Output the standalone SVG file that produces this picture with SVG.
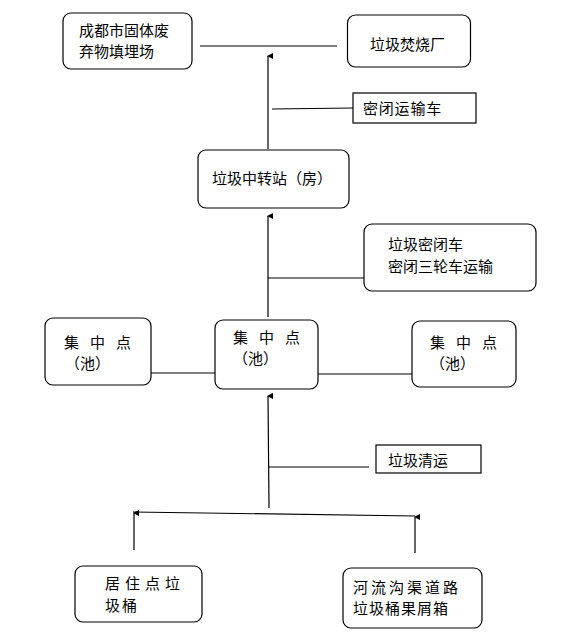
<svg xmlns="http://www.w3.org/2000/svg" width="563" height="644" viewBox="0 0 563 644">
<defs>
<style>
.box{fill:#fff;stroke:#000;stroke-width:1.2}
.ln{fill:none;stroke:#000;stroke-width:1.2}
text{font-family:"Noto Sans CJK SC","Liberation Sans",sans-serif;font-size:15px;fill:#000}
</style>
<marker id="ah" viewBox="0 0 6 6" refX="3" refY="1" markerWidth="6" markerHeight="6" markerUnits="userSpaceOnUse" orient="auto-start-reverse">
<path d="M0,6 L3,0 L6,6 Z" fill="#000"/>
</marker>
</defs>
<rect width="563" height="644" fill="#fff"/>
<g id="connectors">
<line class="ln" x1="200" y1="46" x2="337" y2="46"/>
<line class="ln" x1="268" y1="149" x2="268" y2="56" marker-end="url(#ah)"/>
<line class="ln" x1="272" y1="109" x2="353" y2="108"/>
<line class="ln" x1="268" y1="317" x2="268" y2="216" marker-end="url(#ah)"/>
<line class="ln" x1="268" y1="278" x2="364" y2="278"/>
<line class="ln" x1="151" y1="373" x2="215" y2="373"/>
<line class="ln" x1="318" y1="374" x2="412" y2="374"/>
<line class="ln" x1="269" y1="508" x2="268" y2="396" marker-end="url(#ah)"/>
<line class="ln" x1="269" y1="467" x2="369" y2="467"/>
<line class="ln" x1="133" y1="512" x2="415" y2="516"/>
<line class="ln" x1="134" y1="550" x2="134" y2="513" marker-end="url(#ah)"/>
<line class="ln" x1="415" y1="553" x2="415" y2="517" marker-end="url(#ah)"/>
</g>
<g id="landfill">
<rect class="box" x="63" y="13" width="129" height="56" rx="8"/>
<text x="79" y="36" font-size="14">成都市固体废</text>
<text x="79" y="57" font-size="14">弃物填埋场</text>
</g>
<g id="incinerator">
<rect class="box" x="347.500" y="15" width="123" height="52" rx="8"/>
<text x="370" y="50">垃圾焚烧厂</text>
</g>
<g id="sealed-truck">
<rect class="box" x="353" y="93" width="123" height="30"/>
<text x="363" y="114" letter-spacing="0.8">密闭运输车</text>
</g>
<g id="transfer-station">
<rect class="box" x="198" y="150" width="151" height="58" rx="8"/>
<text x="212" y="184">垃圾中转站（房）</text>
</g>
<g id="closed-vehicles">
<rect class="box" x="364" y="224" width="172" height="67" rx="8"/>
<text x="388" y="250">垃圾密闭车</text>
<text x="388" y="272">密闭三轮车运输</text>
</g>
<g id="collection-left">
<rect class="box" x="45" y="318" width="106" height="67" rx="8"/>
<text x="64" y="348" letter-spacing="11">集中点</text>
<text x="65" y="369">（池）</text>
</g>
<g id="collection-middle">
<rect class="box" x="215" y="320" width="103" height="69" rx="8"/>
<text x="233" y="343" letter-spacing="11">集中点</text>
<text x="233" y="364">（池）</text>
</g>
<g id="collection-right">
<rect class="box" x="412" y="321" width="104" height="66" rx="8"/>
<text x="430" y="348" letter-spacing="11">集中点</text>
<text x="430" y="369">（池）</text>
</g>
<g id="garbage-clearance">
<rect class="box" x="376" y="445" width="105" height="28"/>
<text x="388" y="466">垃圾清运</text>
</g>
<g id="residential-bins">
<rect class="box" x="75" y="566" width="127" height="56" rx="8"/>
<text x="105" y="589" letter-spacing="5">居住点垃</text>
<text x="105" y="611" letter-spacing="2">圾桶</text>
</g>
<g id="river-road-bins">
<rect class="box" x="343" y="568" width="139" height="60" rx="8"/>
<text x="353" y="593" letter-spacing="3">河流沟渠道路</text>
<text x="353" y="614" letter-spacing="1">垃圾桶果屑箱</text>
</g>
</svg>
